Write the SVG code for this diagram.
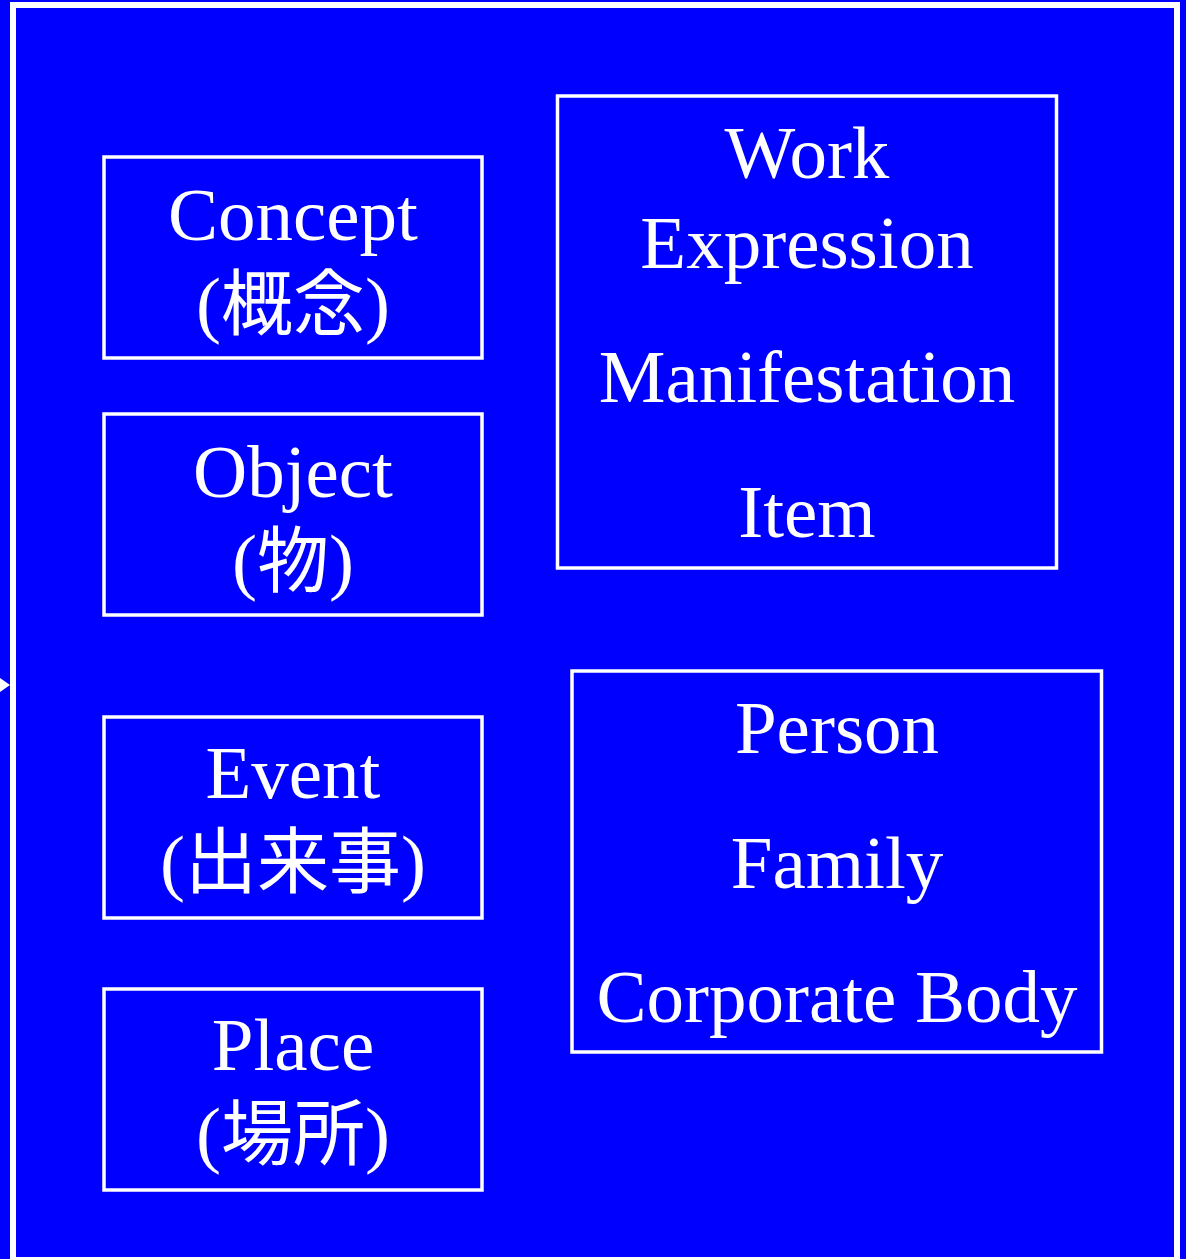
<svg xmlns="http://www.w3.org/2000/svg" width="1186" height="1259" viewBox="0 0 1186 1259">
<style>
.box{fill:none;stroke:#fff;stroke-width:3.5}
.t{fill:#fff;font-family:"Liberation Serif","Noto Sans CJK JP","Times New Roman",serif;font-size:75px;text-anchor:middle}
.cjk{font-family:"Noto Sans CJK JP",sans-serif;font-size:72px}
</style>
<rect x="0" y="0" width="1186" height="1259" fill="#0000ff"/>
<rect id="frame" x="13" y="5" width="1164" height="1255" fill="none" stroke="#fff" stroke-width="6"/>
<g id="connectors">
<polygon points="0,678 10,685 0,692" fill="#fff"/>
</g>
<g id="concept">
<rect class="box" x="104" y="157" width="378" height="201"/>
<text class="t" x="293" y="240">Concept</text>
<text class="t" x="293" y="329">(<tspan class="cjk">概念</tspan>)</text>
</g>
<g id="object">
<rect class="box" x="104" y="414" width="378" height="201"/>
<text class="t" x="293" y="497">Object</text>
<text class="t" x="293" y="586">(<tspan class="cjk">物</tspan>)</text>
</g>
<g id="event">
<rect class="box" x="104" y="717" width="378" height="201"/>
<text class="t" x="293" y="798">Event</text>
<text class="t" x="293" y="887">(<tspan class="cjk">出来事</tspan>)</text>
</g>
<g id="place">
<rect class="box" x="104" y="989" width="378" height="201"/>
<text class="t" x="293" y="1070">Place</text>
<text class="t" x="293" y="1159">(<tspan class="cjk">場所</tspan>)</text>
</g>
<g id="wemi">
<rect class="box" x="557.5" y="96" width="499" height="472"/>
<text class="t" x="807" y="178">Work</text>
<text class="t" x="807" y="268">Expression</text>
<text class="t" x="807" y="402">Manifestation</text>
<text class="t" x="807" y="537">Item</text>
</g>
<g id="agents">
<rect class="box" x="572" y="671" width="529.5" height="381"/>
<text class="t" x="837" y="753">Person</text>
<text class="t" x="837" y="888">Family</text>
<text class="t" x="837" y="1022">Corporate Body</text>
</g>
</svg>
